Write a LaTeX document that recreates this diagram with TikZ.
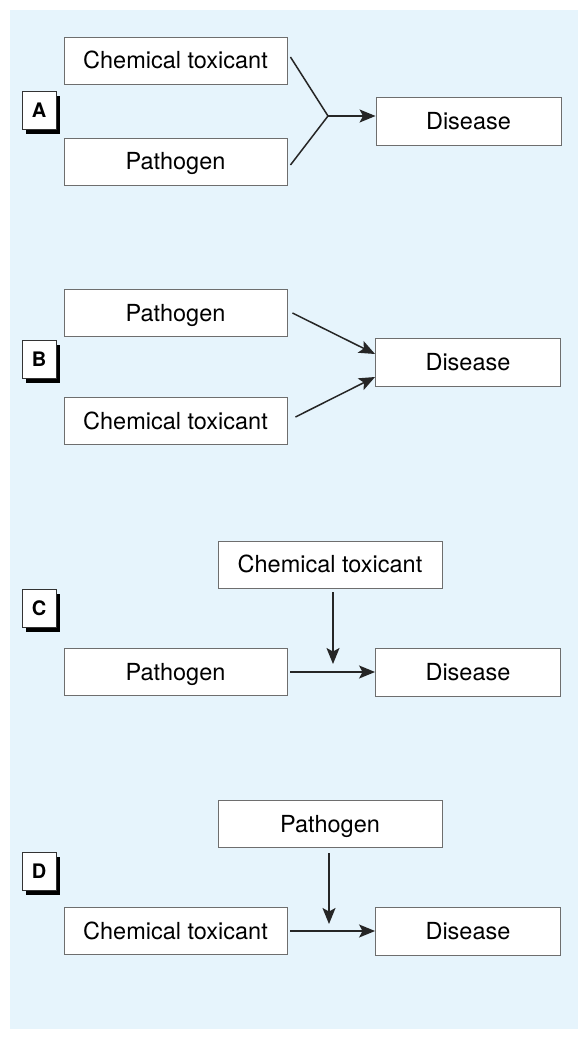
\documentclass[tikz,border=0pt]{standalone}
\usepackage{fontspec}
\setmainfont{TeX Gyre Heros}
\usetikzlibrary{arrows.meta,shadows}
\definecolor{panelblue}{HTML}{E6F4FC}
\definecolor{boxgray}{HTML}{6E6E6E}

\begin{document}
\begin{tikzpicture}[x=1pt,y=-1pt,
  box/.style={draw=boxgray,fill=white,line width=0.9pt,inner sep=0pt,
    minimum width=223pt,minimum height=47pt,text height=16.5pt,text depth=0pt,
    font=\fontsize{23.5}{26}\selectfont},
  disbox/.style={box,minimum width=185pt,minimum height=48pt},
  tag/.style={draw=black!80,fill=white,line width=0.8pt,inner sep=0pt,
    minimum width=34pt,minimum height=38pt,text height=14pt,text depth=0pt,
    font=\fontsize{20}{22}\selectfont\bfseries,
    drop shadow={opacity=1,fill=black,shadow xshift=4pt,shadow yshift=-4.5pt}},
  link/.style={line width=1.5pt,black!85},
  >={Stealth[length=16pt,width=13pt,inset=3.5pt]}]
\useasboundingbox (0,0) rectangle (588,1039);
\fill[white] (0,0) rectangle (588,1039);
\fill[panelblue] (10,10) rectangle (578,1029);

% A
\node[tag] (tagA) at (39,110) {A};
\node[box] (chemA) at (175.5,60.5) {Chemical toxicant};
\node[box] (pathA) at (175.5,161.5) {Pathogen};
\node[disbox] (disA) at (468.5,121) {Disease};
\coordinate (jA) at (328,116);
\draw[link] ([xshift=3pt,yshift=3.5pt]chemA.east) -- (jA) -- ([xshift=3pt,yshift=-3.5pt]pathA.east);
\draw[link,->] (jA) -- (disA.west |- jA);

% B
\node[tag] (tagB) at (39,359) {B};
\node[box] (pathB) at (175.5,313) {Pathogen};
\node[box] (chemB) at (175.5,421) {Chemical toxicant};
\node[disbox] (disB) at (468,362) {Disease};
\draw[link,->] ([xshift=5pt]pathB.east) -- ([yshift=8pt]disB.west);
\draw[link,->] ([xshift=8pt,yshift=4pt]chemB.east) -- ([yshift=-15pt]disB.west);

% C
\node[tag] (tagC) at (39,608) {C};
\node[box,minimum width=224pt] (chemC) at (330,564.5) {Chemical toxicant};
\node[box] (pathC) at (175.5,672) {Pathogen};
\node[disbox] (disC) at (468,672) {Disease};
\coordinate (tC) at (333,592);
\coordinate (mC) at (333,664);
\draw[link,->] ([xshift=3pt]pathC.east) -- (disC.west);
\draw[link,->] (tC) -- (mC);

% D
\node[tag] (tagD) at (39,871) {D};
\node[box,minimum width=224pt] (pathD) at (330,824) {Pathogen};
\node[box] (chemD) at (175.5,931) {Chemical toxicant};
\node[disbox] (disD) at (468,931) {Disease};
\coordinate (tD) at (329,853);
\coordinate (mD) at (329,924);
\draw[link,->] ([xshift=3pt]chemD.east) -- (disD.west);
\draw[link,->] (tD) -- (mD);
\end{tikzpicture}
\end{document}
